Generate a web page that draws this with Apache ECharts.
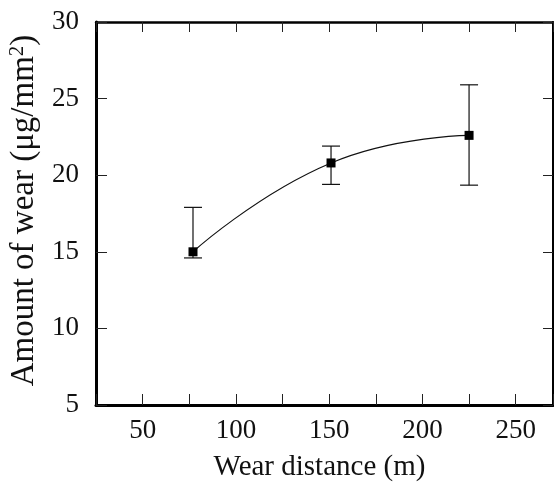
<!DOCTYPE html>
<html><head><meta charset="utf-8">
<script src="https://cdn.jsdelivr.net/npm/echarts@6/dist/echarts.min.js"></script>
<style>html,body{margin:0;padding:0;background:#fff}#c{width:554px;height:487px}</style>
</head><body><div id="c"></div>
<script>
var distance = [77, 151, 225];
var wear = [15.0, 20.8, 22.6];
var errLow = [14.6, 19.4, 19.35];
var errHigh = [17.9, 21.9, 25.9];
var xTicks = [50, 100, 150, 200, 250];

var font = 'Liberation Serif';
var points = distance.map(function(d, i){ return [d, wear[i]]; });
var errs = distance.map(function(d, i){ return [d, errLow[i], errHigh[i]]; });

var chart = echarts.init(document.getElementById('c'), null, {renderer:'canvas'});
chart.setOption({
  animation: false,
  backgroundColor: '#fff',
  grid: {left: 96, right: 1, top: 22, bottom: 82, containLabel: false, outerBoundsMode: 'none'},
  xAxis: [{
    type: 'value', min: 25, max: 270, interval: 25,
    name: 'Wear distance (m)', nameLocation: 'middle', nameGap: 48,
    nameTextStyle: {fontFamily: font, fontSize: 29, color: '#111', padding: [0, 10, 0, 0]},
    axisLine: {lineStyle: {color: '#000', width: 3}},
    axisTick: {inside: true, length: 11, lineStyle: {color: '#222', width: 1}},
    axisLabel: {fontFamily: font, fontSize: 27, color: '#111', margin: 12,
      formatter: function(v){ return xTicks.indexOf(v) >= 0 ? String(v) : ''; }},
    splitLine: {show: false}
  }, {
    type: 'value', position: 'top', min: 25, max: 270, interval: 25,
    axisLine: {lineStyle: {color: '#000', width: 2.5}},
    axisTick: {inside: true, length: 10, lineStyle: {color: '#222', width: 1}},
    axisLabel: {show: false}, splitLine: {show: false}
  }],
  yAxis: [{
    type: 'value', min: 5, max: 30, interval: 5,
    name: 'Amount of wear (\u03bcg/mm{sup|2})', nameLocation: 'middle', nameGap: 54,
    nameTextStyle: {fontFamily: font, fontSize: 33, color: '#111', padding: [0, 0, 0, 6],
      rich: {sup: {fontFamily: font, fontSize: 21, color: '#111', padding: [0,0,14,0]}}},
    axisLine: {lineStyle: {color: '#000', width: 3}},
    axisTick: {inside: true, length: 11, lineStyle: {color: '#222', width: 1}},
    axisLabel: {fontFamily: font, fontSize: 27, color: '#111', margin: 17},
    splitLine: {show: false}
  }, {
    type: 'value', position: 'right', min: 5, max: 30, interval: 5,
    axisLine: {lineStyle: {color: '#000', width: 2}},
    axisTick: {inside: true, length: 10, lineStyle: {color: '#222', width: 1}},
    axisLabel: {show: false}, splitLine: {show: false}
  }],
  series: [{
    type: 'custom',
    data: errs,
    renderItem: function(params, api){
      var x = api.value(0), lo = api.value(1), hi = api.value(2);
      var pLo = api.coord([x, lo]), pHi = api.coord([x, hi]);
      var c = 9;
      var st = {stroke: '#111', lineWidth: 1.2};
      return {type: 'group', children: [
        {type: 'line', shape: {x1: pLo[0], y1: pLo[1], x2: pHi[0], y2: pHi[1]}, style: st},
        {type: 'line', shape: {x1: pLo[0]-c, y1: pLo[1], x2: pLo[0]+c, y2: pLo[1]}, style: st},
        {type: 'line', shape: {x1: pHi[0]-c, y1: pHi[1], x2: pHi[0]+c, y2: pHi[1]}, style: st}
      ]};
    },
    z: 2
  }, {
    type: 'line',
    data: points,
    smooth: 0.5,
    symbol: 'rect', symbolSize: 9,
    itemStyle: {color: '#000'},
    lineStyle: {color: '#111', width: 1.2},
    z: 3
  }]
});
</script></body></html>
